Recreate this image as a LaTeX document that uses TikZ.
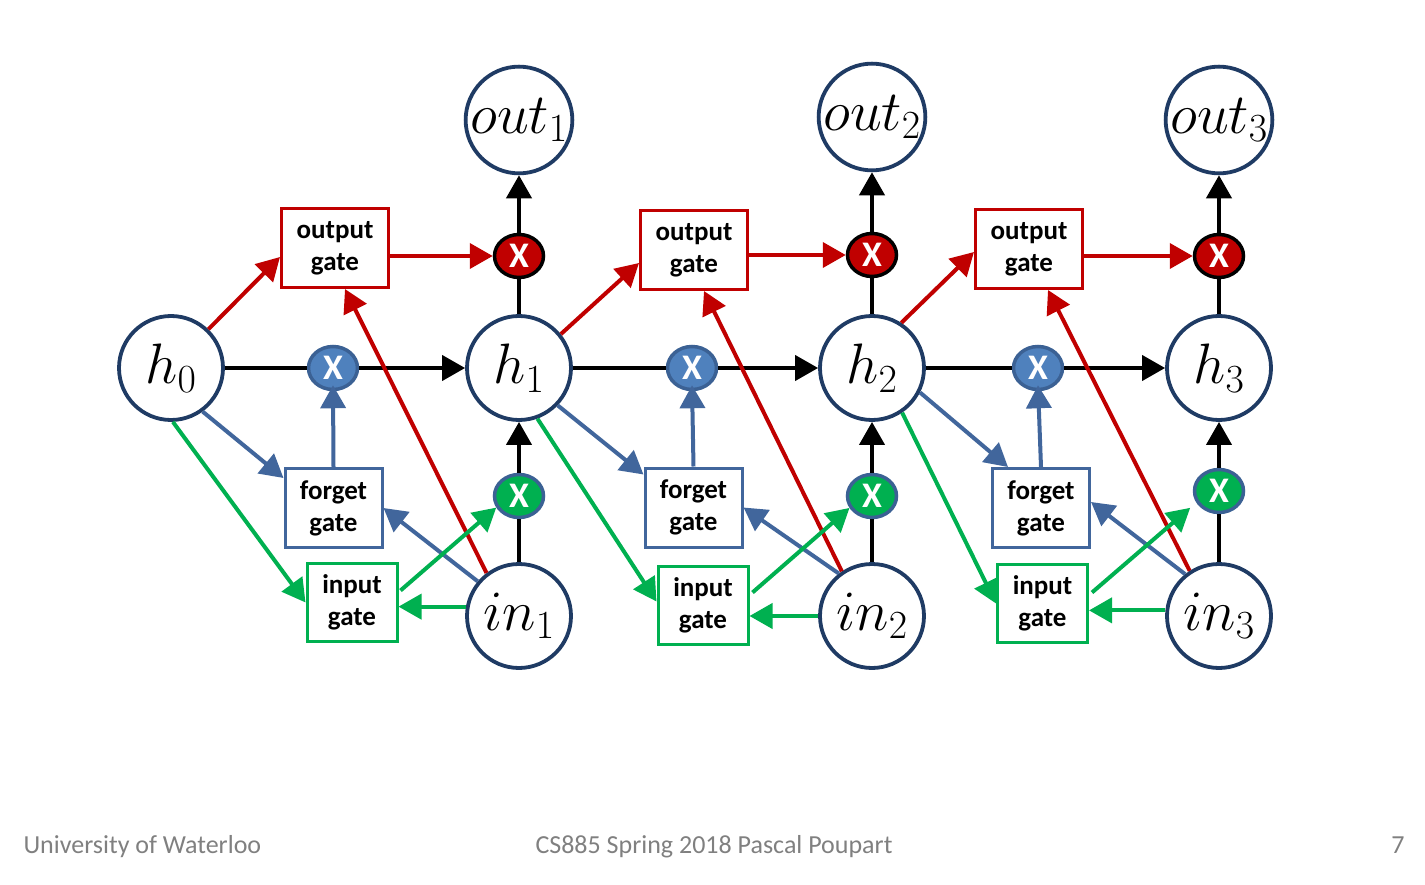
\RequirePackage{fix-cm}
\documentclass[tikz,border=0pt]{standalone}
\usepackage{fontspec}
\setmainfont{Carlito}
\usetikzlibrary{arrows.meta,calc,shapes.geometric}
\definecolor{navy}{HTML}{1F3B64}
\definecolor{gred}{HTML}{C00000}
\definecolor{gblue}{HTML}{41669C}
\definecolor{xblue}{HTML}{4F81BD}
\definecolor{xblueb}{HTML}{3B6194}
\definecolor{ggreen}{HTML}{00B050}
\definecolor{footgray}{HTML}{808080}
\begin{document}
\begin{tikzpicture}[x=1pt,y=-1pt,
  state/.style={circle,draw=navy,line width=3.8pt,minimum size=104pt,inner sep=0pt,
    font=\fontsize{57}{57}\selectfont},
  gatebox/.style={draw,line width=3pt,align=center,inner sep=0pt,
    font=\fontsize{27}{32}\selectfont\bfseries},
  ogate/.style={gatebox,draw=gred,minimum width=107pt,minimum height=79pt},
  fgate/.style={gatebox,draw=gblue,minimum width=97pt,minimum height=79pt},
  igate/.style={gatebox,draw=ggreen,minimum width=90pt,minimum height=78pt},
  mult/.style={ellipse,line width=3.5pt,minimum width=49pt,minimum height=43pt,inner sep=0pt,
    text=white,font=\fontsize{36}{36}\selectfont\bfseries},
  rmult/.style={mult,draw=black,fill=gred},
  bmult/.style={mult,draw=xblueb,fill=xblue},
  gmult/.style={mult,draw=xblueb,fill=ggreen},
  conn/.style={line width=4pt,-{Triangle[length=23pt,width=25pt]}},
  plain/.style={line width=4pt},
  foot/.style={text=footgray,font=\fontsize{26}{26}\selectfont}
]
\useasboundingbox (0,0) rectangle (1425,885);

% state nodes
\node[state] (h0) at (171,368) {$h_0$};
\node[state] (h1) at (519,368) {$h_1$};
\node[state] (h2) at (872,368) {$h_2$};
\node[state] (h3) at (1219,368) {$h_3$};
\node[state] (out1) at (519,120) {$out_1$};
\node[state] (out2) at (872,117) {$out_2$};
\node[state] (out3) at (1219,120) {$out_3$};
\node[state] (in1) at (519,616) {$in_1$};
\node[state] (in2) at (872,616) {$in_2$};
\node[state] (in3) at (1219,616) {$in_3$};

% gates
\node[ogate] (og1) at (335,248) {output\\gate};
\node[ogate] (og2) at (694,250) {output\\gate};
\node[ogate] (og3) at (1029,249) {output\\gate};
\node[fgate] (fg1) at (333.5,508) {forget\\gate};
\node[fgate] (fg2) at (693.5,507.5) {forget\\gate};
\node[fgate] (fg3) at (1041,508) {forget\\gate};
\node[igate] (ig1) at (352,602.5) {input\\gate};
\node[igate] (ig2) at (703,605.5) {input\\gate};
\node[igate] (ig3) at (1042.5,603.5) {input\\gate};

% multipliers
\node[rmult] (rx1) at (519,256) {X};
\node[rmult] (rx2) at (872,255) {X};
\node[rmult] (rx3) at (1219,256) {X};
\node[bmult] (bx1) at (333,368) {X};
\node[bmult] (bx2) at (692,368) {X};
\node[bmult] (bx3) at (1038,368) {X};
\node[gmult] (gx1) at (519,496) {X};
\node[gmult] (gx2) at (872,496) {X};
\node[gmult] (gx3) at (1219,491) {X};

% black flow
\draw[plain] (h0.east) -- (bx1.west);
\draw[conn] (bx1.east) -- (h1.west);
\draw[plain] (h1.east) -- (bx2.west);
\draw[conn] (bx2.east) -- (h2.west);
\draw[plain] (h2.east) -- (bx3.west);
\draw[conn] (bx3.east) -- (h3.west);
\foreach \i in {1,2,3}{
  \draw[plain] (in\i.north) -- (gx\i.south);
  \draw[conn] (gx\i.north) -- (h\i.south);
  \draw[plain] (h\i.north) -- (rx\i.south);
  \draw[conn] (rx\i.north) -- (out\i.south);
  \draw[conn,gred] (og\i.east |- rx\i.west) -- (rx\i.west);
  \draw[conn,gblue] (fg\i.north) -- ([yshift=6pt]bx\i.south);
}

% column 1
\draw[conn,gred] (h0.46) -- ($(og1.west)+(0,9)$);
\draw[conn,gblue] (h0.-54) -- ($(fg1.north west)+(0,11)$);
\draw[conn,ggreen] (h0.-88) -- (ig1.west);
\draw[conn,gred] (in1.127) -- ($(og1.south)+(10,0)$);
\draw[conn,gblue] (in1.140) -- (fg1.east);
\draw[conn,ggreen] (in1.170) -- (in1.170 -| ig1.east);
\draw[conn,ggreen] ($(ig1.east)+(2,-12)$) -- (gx1.207);

% column 2
\draw[conn,gred] (h1.39) -- ($(og2.west)+(0,13)$);
\draw[conn,gblue] (h1.-44) -- ($(fg2.north west)+(0,8)$);
\draw[conn,ggreen] (h1.-70) -- ($(ig2.west)+(0,-4)$);
\draw[conn,gred] (in2.124) -- ($(og2.south)+(10,0)$);
\draw[conn,gblue] (in2.128) -- (fg2.east);
\draw[conn,ggreen] (in2.180) -- (in2.180 -| ig2.east);
\draw[conn,ggreen] ($(ig2.east)+(3,-13)$) -- (gx2.208);

% column 3
\draw[conn,gred] (h2.57) -- ($(og3.west)+(0,3)$);
\draw[conn,gblue] (h2.-27) -- ($(fg3.north west)+(17,0)$);
\draw[conn,ggreen] (h2.-56) -- (ig3.west);
\draw[conn,gred] (in3.123) -- ($(og3.south)+(19,0)$);
\draw[conn,gblue] (in3.129) -- ($(fg3.east)+(0,-6)$);
\draw[conn,ggreen] (in3.174) -- (in3.174 -| ig3.east);
\draw[conn,ggreen,shorten >=8pt] ($(ig3.east)+(3,-11)$) -- (gx3.207);

% footer
\node[foot,anchor=base west] (fl) at (20,853) {University of Waterloo};
\node[foot,anchor=base] (fc) at (714,853) {CS885 Spring 2018 Pascal Poupart};
\node[foot,anchor=base east] (fr) at (1408,853) {7};
\end{tikzpicture}
\end{document}
